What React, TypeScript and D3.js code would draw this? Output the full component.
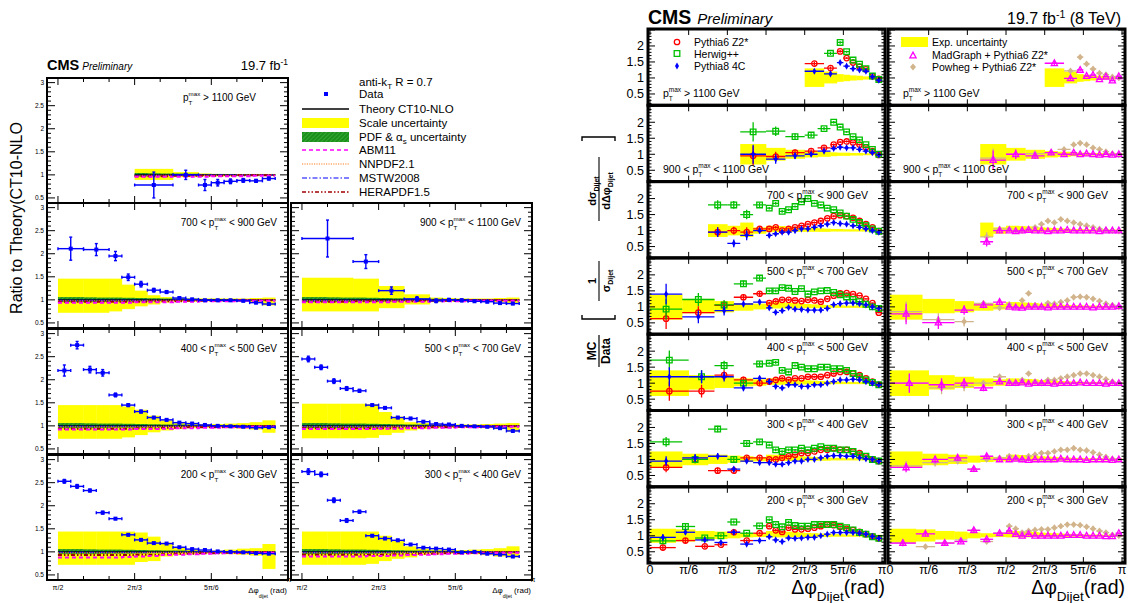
import React, { useEffect, useRef } from 'react';
import * as d3 from 'd3';

const FONT = "'Liberation Sans', Arial, Helvetica, sans-serif";
// every bin edge below is counted in units of pi/36
const STEP = Math.PI / 36;

const FINE_L = [18, 19, 20, 21, 22, 23, 24, 25, 26, 27, 28, 29, 30, 31, 32, 33, 34, 35];
const FINE_R = [18, 19, 20, 21, 22, 23, 24, 25, 26, 27, 28, 29, 30, 31, 32, 33, 34, 35, 36];

/* =====================
   Left figure: ratio to CT10-NLO
   ===================== */

const leftPre = ['', '700 < ', '900 < ', '400 < ', '500 < ', '200 < ', '300 < '];
const leftPost = [' > 1100 GeV', ' < 900 GeV', ' < 1100 GeV', ' < 500 GeV', ' < 700 GeV', ' < 300 GeV', ' < 400 GeV'];
// [column, row]
const leftCell = [[0, 0], [0, 1], [1, 1], [0, 2], [1, 2], [0, 3], [1, 3]];

const leftEdges = [
  [24, 27, 29, 30, 31, 32, 33, 34, 35],
  [18, 20, 22, 23, 24, 25, 26, 27, 28, 29, 30, 31, 32, 33, 34, 35],
  [18, 22, 24, 26, 28, 29, 30, 31, 32, 33, 34, 35],
  FINE_L, FINE_L, FINE_L, FINE_L,
];

const leftData = [
  [0.78, 1.0, 0.78, 0.83, 0.86, 0.88, 0.87, 0.92],
  [2.11, 2.09, 1.95, 1.49, 1.34, 1.21, 1.17, 1.04, 1.01, 0.99, 0.99, 0.99, 0.98, 0.94, 0.91],
  [2.33, 1.83, 1.2, 1.02, 0.98, 1.0, 0.99, 0.97, 0.96, 0.93, 0.92],
  [2.2, 2.75, 2.22, 2.15, 1.67, 1.45, 1.31, 1.18, 1.13, 1.07, 1.05, 1.02, 1.0, 0.99, 0.98, 0.96, 0.97],
  [2.45, 2.27, 1.97, 1.81, 1.76, 1.45, 1.39, 1.18, 1.16, 1.09, 1.04, 1.03, 1.0, 0.99, 0.98, 0.95, 0.89],
  [2.53, 2.42, 2.33, 1.85, 1.72, 1.37, 1.26, 1.19, 1.18, 1.1, 1.06, 1.04, 1.01, 1.0, 0.99, 0.97, 0.96],
  [2.74, 2.68, 2.12, 1.68, 1.87, 1.35, 1.29, 1.25, 1.16, 1.09, 1.07, 1.05, 0.99, 1.0, 0.96, 0.94, 0.9],
];

const leftErr = [
  [0.28, 0.1, 0.12, 0.07, 0.05, 0.04, 0.03, 0.03],
  [0.25, 0.13, 0.1, 0.07, 0.06, 0.04, 0.03, 0.02, 0.02, 0.02, 0.02, 0.02, 0.02, 0.02, 0.02],
  [0.4, 0.15, 0.08, 0.05, 0.04, 0.03, 0.03, 0.02, 0.02, 0.02, 0.02],
  [0.12, 0.08, 0.07, 0.07, 0.04, 0.03, 0.03, 0.02, 0.02, 0.02, 0.02, 0.02, 0.01, 0.01, 0.01, 0.01, 0.01],
  [0.06, 0.05, 0.05, 0.04, 0.03, 0.02, 0.02, 0.02, 0.02, 0.02, 0.01, 0.01, 0.01, 0.01, 0.01, 0.01, 0.02],
  [0.04, 0.04, 0.03, 0.03, 0.02, 0.02, 0.01, 0.01, 0.01, 0.01, 0.01, 0.01, 0.01, 0.01, 0.01, 0.01, 0.01],
  [0.06, 0.05, 0.05, 0.04, 0.03, 0.02, 0.02, 0.02, 0.01, 0.01, 0.01, 0.01, 0.01, 0.01, 0.01, 0.01, 0.02],
];

const leftScaleLo = [
  [0.89, 0.95, 0.97, 0.97, 0.97, 0.98, 0.98, 0.98],
  [0.72, 0.72, 0.75, 0.8, 0.86, 0.9, 0.94, 0.96, 0.96, 0.97, 0.97, 0.97, 0.96, 0.95, 0.88],
  [0.75, 0.75, 0.82, 0.9, 0.95, 0.96, 0.97, 0.97, 0.96, 0.95, 0.92],
  [0.72, 0.72, 0.72, 0.72, 0.72, 0.75, 0.8, 0.86, 0.9, 0.93, 0.95, 0.96, 0.96, 0.95, 0.94, 0.92, 0.85],
  [0.73, 0.73, 0.73, 0.73, 0.73, 0.74, 0.8, 0.85, 0.9, 0.93, 0.95, 0.96, 0.96, 0.96, 0.95, 0.93, 0.88],
  [0.72, 0.72, 0.72, 0.72, 0.72, 0.72, 0.78, 0.8, 0.9, 0.93, 0.95, 0.96, 0.96, 0.95, 0.94, 0.92, 0.63],
  [0.72, 0.72, 0.72, 0.72, 0.72, 0.74, 0.8, 0.85, 0.88, 0.93, 0.95, 0.96, 0.96, 0.95, 0.93, 0.9, 0.88],
];
const leftScaleHi = [
  [1.13, 1.06, 1.03, 1.02, 1.02, 1.02, 1.02, 1.02],
  [1.46, 1.46, 1.46, 1.33, 1.2, 1.1, 1.06, 1.04, 1.03, 1.03, 1.03, 1.03, 1.03, 1.04, 1.05],
  [1.48, 1.46, 1.3, 1.12, 1.05, 1.04, 1.03, 1.03, 1.03, 1.04, 1.05],
  [1.45, 1.45, 1.45, 1.45, 1.45, 1.42, 1.35, 1.22, 1.12, 1.07, 1.05, 1.04, 1.04, 1.05, 1.06, 1.08, 1.12],
  [1.48, 1.48, 1.48, 1.48, 1.48, 1.47, 1.3, 1.2, 1.08, 1.06, 1.04, 1.03, 1.03, 1.03, 1.04, 1.05, 1.06],
  [1.44, 1.44, 1.44, 1.44, 1.44, 1.44, 1.42, 1.33, 1.2, 1.1, 1.05, 1.03, 1.03, 1.05, 1.07, 1.08, 1.17],
  [1.44, 1.44, 1.44, 1.44, 1.44, 1.44, 1.35, 1.25, 1.12, 1.07, 1.05, 1.04, 1.04, 1.05, 1.06, 1.08, 1.12],
];

// PDF & alpha_s band on the fine pi/36 grid (pi/2 .. 35 pi/36)
const leftPdfLo = [0.95, 0.95, 0.95, 0.955, 0.96, 0.96, 0.965, 0.97, 0.975, 0.975, 0.98, 0.98, 0.985, 0.985, 0.99, 0.99, 0.99];
const leftPdfHi = [1.06, 1.06, 1.055, 1.05, 1.05, 1.045, 1.04, 1.035, 1.03, 1.03, 1.025, 1.02, 1.02, 1.015, 1.015, 1.01, 1.01];

const leftNnpdf = [0.98, 0.98, 0.98, 0.98, 0.98, 0.98, 0.98, 0.99, 0.99, 0.99, 0.99, 0.99, 0.99, 0.99, 1.0, 1.0, 1.0];
const leftMstw = [0.99, 0.99, 0.99, 0.99, 0.99, 0.99, 0.99, 0.99, 0.99, 1.0, 1.0, 1.0, 1.0, 1.0, 1.0, 1.0, 1.0];
const leftAbm = [
  [0.95, 0.95, 0.95, 0.95, 0.95, 0.95, 0.96, 0.96, 0.96, 0.96, 0.96, 0.96, 0.97, 0.97, 0.97, 0.98, 0.98],
  [0.94, 0.94, 0.94, 0.94, 0.94, 0.94, 0.95, 0.95, 0.95, 0.96, 0.96, 0.97, 0.97, 0.97, 0.98, 0.98, 0.98],
  [0.95, 0.95, 0.95, 0.95, 0.95, 0.95, 0.95, 0.96, 0.96, 0.96, 0.97, 0.97, 0.97, 0.98, 0.98, 0.98, 0.98],
  [0.92, 0.92, 0.92, 0.92, 0.92, 0.92, 0.93, 0.93, 0.94, 0.95, 0.95, 0.96, 0.96, 0.97, 0.97, 0.98, 0.98],
  [0.93, 0.93, 0.93, 0.93, 0.93, 0.93, 0.94, 0.94, 0.95, 0.95, 0.96, 0.96, 0.97, 0.97, 0.98, 0.98, 0.98],
  [0.88, 0.88, 0.88, 0.88, 0.88, 0.89, 0.9, 0.91, 0.93, 0.94, 0.95, 0.96, 0.97, 0.97, 0.98, 0.98, 0.98],
  [0.9, 0.9, 0.9, 0.9, 0.9, 0.91, 0.91, 0.92, 0.93, 0.94, 0.95, 0.96, 0.96, 0.97, 0.97, 0.98, 0.98],
];
const leftHera = [
  [0.97, 0.97, 0.97, 0.97, 0.97, 0.97, 0.97, 0.97, 0.97, 0.98, 0.98, 0.98, 0.98, 0.98, 0.99, 0.99, 0.99],
  [0.96, 0.96, 0.96, 0.96, 0.96, 0.96, 0.96, 0.97, 0.97, 0.97, 0.98, 0.98, 0.98, 0.98, 0.99, 0.99, 0.99],
  [0.96, 0.96, 0.96, 0.96, 0.97, 0.97, 0.97, 0.97, 0.97, 0.98, 0.98, 0.98, 0.98, 0.99, 0.99, 0.99, 0.99],
  [0.94, 0.94, 0.94, 0.94, 0.94, 0.94, 0.95, 0.95, 0.96, 0.96, 0.97, 0.97, 0.97, 0.98, 0.98, 0.99, 0.99],
  [0.95, 0.95, 0.95, 0.95, 0.95, 0.95, 0.95, 0.96, 0.96, 0.97, 0.97, 0.97, 0.98, 0.98, 0.98, 0.99, 0.99],
  [0.93, 0.93, 0.93, 0.93, 0.93, 0.93, 0.94, 0.94, 0.95, 0.96, 0.96, 0.97, 0.97, 0.98, 0.98, 0.99, 0.99],
  [0.94, 0.94, 0.94, 0.94, 0.94, 0.94, 0.94, 0.95, 0.95, 0.96, 0.96, 0.97, 0.97, 0.98, 0.98, 0.99, 0.99],
];

/* =====================
   Right figure: MC / Data
   ===================== */

const rightPre = ['', '900 < ', '700 < ', '500 < ', '400 < ', '300 < ', '200 < '];
const rightPost = [' > 1100 GeV', ' < 1100 GeV', ' < 900 GeV', ' < 700 GeV', ' < 500 GeV', ' < 400 GeV', ' < 300 GeV'];

const rightEdges = [
  [24, 27, 29, 30, 31, 32, 33, 34, 35, 36],
  [14, 18, 21, 24, 26, 28, 29, 30, 31, 32, 33, 34, 35, 36],
  [9, 12, 14, 16, ...FINE_R],
  [0, 5, 10, 13, 16, ...FINE_R],
  [0, 6, 10, 13, 16, ...FINE_R],
  [0, 5, 9, 12, 14, 16, ...FINE_R],
  [0, 4, 7, 10, 12, 14, 16, ...FINE_R],
];

const EXP_LO_FINE = [0.95, 0.95, 0.95, 0.95, 0.96, 0.96, 0.96, 0.96, 0.96, 0.96, 0.97, 0.97, 0.97, 0.97, 0.97, 0.97, 0.97, 0.97];
const EXP_HI_FINE = [1.15, 1.15, 1.14, 1.13, 1.12, 1.1, 1.09, 1.08, 1.07, 1.06, 1.05, 1.05, 1.04, 1.04, 1.04, 1.03, 1.03, 1.03];
const ERR_FINE = [0.04, 0.04, 0.04, 0.04, 0.03, 0.03, 0.03, 0.03, 0.03, 0.03, 0.03, 0.02, 0.02, 0.02, 0.02, 0.02, 0.02, 0.02];

const rightExpLo = [
  [0.72, 0.83, 0.88, 0.9, 0.92, 0.93, 0.95, 0.96, 0.97],
  [0.68, 0.8, 0.86, 0.9, 0.92, 0.94, 0.95, 0.95, 0.96, 0.96, 0.97, 0.97, 0.97],
  [0.8, 0.85, 0.8, 0.9, ...EXP_LO_FINE],
  [0.6, 0.8, 0.83, 0.88, 0.92, ...EXP_LO_FINE],
  [0.6, 0.8, 0.85, 0.9, 0.92, ...EXP_LO_FINE],
  [0.75, 0.82, 0.86, 0.9, 0.92, 0.94, ...EXP_LO_FINE],
  [0.78, 0.82, 0.88, 0.9, 0.92, 0.95, 0.96, ...EXP_LO_FINE],
];
const rightExpHi = [
  [1.3, 1.2, 1.12, 1.1, 1.08, 1.07, 1.05, 1.04, 1.03],
  [1.32, 1.2, 1.14, 1.1, 1.08, 1.06, 1.05, 1.05, 1.04, 1.04, 1.03, 1.03, 1.03],
  [1.2, 1.15, 1.25, 1.1, ...EXP_HI_FINE],
  [1.38, 1.25, 1.18, 1.12, 1.1, ...EXP_HI_FINE],
  [1.4, 1.25, 1.2, 1.15, 1.12, ...EXP_HI_FINE],
  [1.25, 1.18, 1.15, 1.12, 1.1, 1.08, ...EXP_HI_FINE],
  [1.22, 1.2, 1.15, 1.13, 1.1, 1.08, 1.06, ...EXP_HI_FINE],
];
const rightErr = [
  [0.06, 0.05, 0.04, 0.03, 0.03, 0.02, 0.02, 0.02, 0.02],
  [0.3, 0.15, 0.1, 0.06, 0.05, 0.04, 0.03, 0.03, 0.03, 0.03, 0.02, 0.02, 0.02],
  [0.15, 0.12, 0.15, 0.08, ...ERR_FINE],
  [0.32, 0.2, 0.15, 0.1, 0.08, ...ERR_FINE],
  [0.3, 0.2, 0.15, 0.1, 0.08, ...ERR_FINE],
  [0.15, 0.12, 0.1, 0.08, 0.06, 0.05, ...ERR_FINE],
  [0.1, 0.08, 0.06, 0.05, 0.05, 0.04, 0.04, ...ERR_FINE],
];

const pythia6 = [
  [1.45, 1.31, 1.83, 1.62, 1.48, 1.35, 1.27, 1.05, 0.97],
  [0.95, 0.93, 1.05, 1.1, 1.2, 1.3, 1.38, 1.4, 1.37, 1.3, 1.22, 1.1, 0.98],
  [0.95, 1.0, 0.95, 1.05, 1.05, 1.1, 1.0, 1.05, 1.1, 1.15, 1.2, 1.25, 1.3, 1.38, 1.45, 1.48, 1.45, 1.4, 1.3, 1.2, 1.1, 0.98],
  [0.63, 0.82, 1.05, 1.3, 1.41, 1.12, 1.17, 1.22, 1.22, 1.2, 1.18, 1.22, 1.2, 1.16, 1.25, 1.35, 1.42, 1.43, 1.4, 1.35, 1.25, 1.12, 0.82],
  [0.75, 0.75, 1.25, 1.1, 1.0, 1.05, 1.1, 1.15, 1.1, 1.15, 1.15, 1.2, 1.2, 1.2, 1.25, 1.3, 1.35, 1.35, 1.3, 1.25, 1.15, 1.05, 0.95],
  [0.75, 1.0, 0.65, 0.65, 1.05, 1.05, 1.0, 1.0, 1.05, 1.1, 1.15, 1.2, 1.2, 1.25, 1.3, 1.3, 1.35, 1.3, 1.3, 1.25, 1.2, 1.1, 1.0, 0.95],
  [0.63, 0.85, 0.67, 0.72, 1.11, 0.85, 1.08, 1.3, 1.17, 1.12, 1.25, 1.2, 1.2, 1.22, 1.25, 1.3, 1.35, 1.33, 1.28, 1.22, 1.18, 1.12, 1.05, 0.98, 0.92],
];
const herwig = [
  [null, 1.77, 2.11, 1.82, 1.56, 1.43, 1.29, 1.06, 0.95],
  [1.7, 1.72, 1.55, 1.6, 1.8, 2.0, 1.85, 1.7, 1.55, 1.45, 1.3, 1.15, 1.0],
  [1.8, 1.8, 1.5, 1.8, 1.7, 1.85, 1.6, 1.65, 1.75, 1.9, 2.0, 1.85, 1.8, 1.7, 1.65, 1.55, 1.45, 1.35, 1.25, 1.15, 1.05, 0.98],
  [0.93, 1.23, 1.06, 1.72, 1.9, 1.5, 1.5, 1.6, 1.58, 1.48, 1.57, 1.4, 1.47, 1.5, 1.51, 1.45, 1.38, 1.31, 1.23, 1.16, 1.08, 1.0, 0.95],
  [1.72, 1.2, 1.55, 1.0, 1.6, 1.62, 1.65, 1.4, 1.35, 1.55, 1.5, 1.45, 1.45, 1.5, 1.5, 1.45, 1.45, 1.4, 1.3, 1.2, 1.1, 1.02, 0.95],
  [1.55, 1.0, 1.95, 1.0, 1.5, 1.55, 1.45, 1.3, 1.25, 1.3, 1.3, 1.35, 1.3, 1.35, 1.4, 1.35, 1.35, 1.3, 1.3, 1.25, 1.15, 1.1, 1.0, 0.95],
  [0.84, 1.29, 0.93, 1.0, 1.43, 1.08, 1.31, 1.5, 1.35, 1.28, 1.42, 1.32, 1.3, 1.3, 1.35, 1.35, 1.35, 1.35, 1.3, 1.25, 1.18, 1.1, 1.05, 0.97, 0.92],
];
const pythia8 = [
  [1.21, 1.13, 1.48, 1.37, 1.29, 1.25, 1.21, 1.04, 0.93],
  [1.0, 0.85, 0.95, 1.0, 1.1, 1.18, 1.22, 1.2, 1.2, 1.15, 1.1, 1.05, 0.98],
  [0.95, 0.6, 0.85, 1.0, 0.85, 0.9, 0.95, 0.95, 1.0, 1.05, 1.05, 1.1, 1.15, 1.2, 1.25, 1.22, 1.2, 1.15, 1.1, 1.05, 1.0, 0.95],
  [1.4, 0.69, 0.88, 1.09, 1.15, 0.97, 0.83, 0.88, 0.98, 0.93, 0.92, 0.9, 0.9, 0.9, 0.95, 1.07, 1.1, 1.12, 1.12, 1.1, 1.06, 1.0, 0.95],
  [1.2, 1.2, 1.2, 0.85, 1.15, 1.05, 0.9, 0.85, 0.95, 0.95, 0.9, 0.9, 0.95, 0.95, 1.0, 1.05, 1.1, 1.1, 1.12, 1.1, 1.05, 1.0, 0.95],
  [0.95, 1.05, 1.1, 0.7, 0.95, 0.9, 0.9, 0.85, 0.85, 0.9, 0.95, 0.95, 1.0, 1.0, 1.05, 1.1, 1.12, 1.12, 1.1, 1.1, 1.05, 1.02, 1.0, 0.95],
  [0.95, 1.11, 0.87, 0.79, 1.11, 0.74, 0.85, 0.97, 0.87, 0.82, 0.93, 0.92, 0.93, 0.95, 0.95, 1.0, 1.05, 1.1, 1.1, 1.1, 1.1, 1.08, 1.05, 0.98, 0.92],
];
const madgraph = [
  [1.46, 0.99, 1.25, 1.06, 1.09, 0.96, 1.04, 0.92, 1.05],
  [0.82, 1.0, 0.95, 1.05, 1.0, 1.05, 1.0, 1.02, 1.0, 0.98, 1.0, 0.98, 1.0],
  [null, null, 0.65, 1.0, 1.0, 0.98, 1.0, 1.02, 1.0, 1.0, 0.98, 1.0, 1.0, 1.02, 1.0, 1.0, 1.0, 1.0, 0.98, 1.0, 1.0, 1.0],
  [0.78, 0.51, 0.9, 1.06, 1.15, 1.0, 0.98, 0.97, 1.0, 1.0, 1.0, 0.98, 1.0, 1.0, 1.0, 1.0, 1.0, 1.0, 0.98, 1.0, 1.0, 1.0, 1.02],
  [1.0, 0.95, 1.0, 0.85, 1.05, 1.0, 1.0, 1.02, 0.98, 1.0, 1.0, 1.0, 0.98, 1.0, 1.0, 1.0, 1.02, 1.0, 1.0, 1.0, 0.98, 1.0, 1.0],
  [0.75, 1.0, 1.05, 0.7, 1.1, 1.0, 1.0, 1.02, 1.0, 0.98, 1.0, 1.0, 1.0, 1.0, 1.02, 1.0, 1.0, 1.0, 0.98, 1.0, 1.0, 1.0, 0.98, 1.0],
  [0.77, 1.06, 0.77, 0.82, 1.17, 0.89, 1.08, 1.15, 1.05, 1.0, 1.05, 1.0, 1.0, 1.0, 1.0, 1.0, 1.02, 1.02, 1.02, 1.0, 1.0, 1.0, 0.98, 0.98, 1.08],
];
const powheg = [
  [null, 1.22, 1.65, 1.44, 1.28, 1.15, 1.1, 1.03, 1.0],
  [0.88, 1.0, 1.02, 1.05, 1.15, 1.3, 1.35, 1.3, 1.2, 1.15, 1.08, 1.02, 0.98],
  [null, null, 0.8, 1.05, 1.05, 1.0, 1.0, 1.05, 1.1, 1.2, 1.3, 1.25, 1.35, 1.3, 1.25, 1.2, 1.15, 1.1, 1.05, 1.02, 1.0, 0.98],
  [0.85, 0.6, 0.54, 1.11, 0.97, 1.08, 1.0, 1.2, 1.42, 1.05, 1.0, 1.12, 1.1, 1.15, 1.2, 1.3, 1.32, 1.3, 1.25, 1.18, 1.1, 1.05, 1.0],
  [1.0, 0.85, 0.9, 1.0, 1.2, 1.05, 1.0, 1.1, 1.3, 1.05, 1.0, 1.1, 1.1, 1.15, 1.2, 1.25, 1.3, 1.3, 1.25, 1.2, 1.12, 1.05, 1.0],
  [0.8, 0.9, 0.95, 0.7, 1.0, 1.05, 1.1, 1.05, 1.0, 1.1, 1.15, 1.2, 1.2, 1.25, 1.3, 1.3, 1.35, 1.3, 1.28, 1.22, 1.15, 1.08, 1.02, 1.0],
  [0.78, 0.66, 0.78, 0.87, 1.17, 0.82, 1.08, 1.3, 1.22, 1.1, 1.15, 1.18, 1.2, 1.2, 1.25, 1.3, 1.35, 1.35, 1.33, 1.28, 1.22, 1.15, 1.1, 1.03, 1.0],
];

const rightXLabels = ['0', 'π/6', 'π/3', 'π/2', '2π/3', '5π/6', 'π'];

type Sel = d3.Selection<any, any, any, any>;

function ptLabel(g: Sel, x: number, y: number, pre: string, post: string, size: number, anchor: string) {
  const t = g.append('text').attr('x', x).attr('y', y).attr('font-size', size).attr('text-anchor', anchor);
  t.append('tspan').text(pre + 'p');
  t.append('tspan').attr('font-size', size * 0.62).attr('dy', size * 0.38).text('T');
  t.append('tspan').attr('font-size', size * 0.62).attr('dx', -size * 0.62 * 0.61).attr('dy', -size * 0.85).text('max');
  t.append('tspan').attr('dy', size * 0.47).text(post);
}

function markerPath(kind: string, cx: number, cy: number) {
  if (kind === 'diamond') return `M${cx},${cy - 3.6}L${cx + 2},${cy}L${cx},${cy + 3.6}L${cx - 2},${cy}Z`;
  if (kind === 'wdiamond') return `M${cx},${cy - 3.4}L${cx + 3},${cy}L${cx},${cy + 3.4}L${cx - 3},${cy}Z`;
  if (kind === 'triangle') return `M${cx},${cy - 3.4}L${cx + 3.1},${cy + 2.3}L${cx - 3.1},${cy + 2.3}Z`;
  if (kind === 'square') return `M${cx - 2.8},${cy - 2.8}h5.6v5.6h-5.6Z`;
  return `M${cx - 2.7},${cy}a2.7,2.7 0 1,0 5.4,0a2.7,2.7 0 1,0 -5.4,0`;
}
const markerFilled = (kind: string) => kind === 'diamond' || kind === 'wdiamond';

const App: React.FC = () => {
  const svgRef = useRef<SVGSVGElement>(null);

  useEffect(() => {
    if (!svgRef.current) return;
    const svg = d3.select(svgRef.current);
    svg.selectAll('*').remove();
    svg.attr('font-family', FONT);

    const defs = svg.append('defs');
    const pat = defs.append('pattern').attr('id', 'pdfHatch').attr('patternUnits', 'userSpaceOnUse')
      .attr('width', 3).attr('height', 3).attr('patternTransform', 'rotate(45)');
    pat.append('rect').attr('width', 3).attr('height', 3).attr('fill', '#1a8f1a');
    pat.append('line').attr('x1', 0).attr('y1', 0).attr('x2', 0).attr('y2', 3)
      .attr('stroke', '#45b845').attr('stroke-width', 1.2);

    /* ---------- left figure ---------- */
    const LX = [47, 291], LW = 241, LY = [78, 203, 329, 455], LH = 125;

    leftCell.forEach(([c, r], i) => {
      const x0 = LX[c], y0 = LY[r];
      const x = d3.scaleLinear().domain([1.496, Math.PI]).range([x0, x0 + LW]);
      const y = d3.scaleLinear().domain([0.39, 3.1]).range([y0 + LH, y0]);
      const g = svg.append('g');
      const edges = leftEdges[i];
      const bins = leftData[i].map((v, j) => ({
        lo: edges[j] * STEP, hi: edges[j + 1] * STEP, v, e: leftErr[i][j],
        sLo: leftScaleLo[i][j], sHi: leftScaleHi[i][j],
      }));

      g.selectAll(null).data(bins).join('rect')
        .attr('x', d => x(d.lo)).attr('width', d => x(d.hi) - x(d.lo) + 0.3)
        .attr('y', d => y(d.sHi)).attr('height', d => y(d.sLo) - y(d.sHi))
        .attr('fill', '#ffff00');

      const first = edges[0], last = edges[edges.length - 1];
      const fine = FINE_L.slice(0, -1).filter(k => k >= first && k < last);
      g.selectAll(null).data(fine).join('rect')
        .attr('x', k => x(k * STEP)).attr('width', k => x((k + 1) * STEP) - x(k * STEP) + 0.3)
        .attr('y', k => y(leftPdfHi[k - 18])).attr('height', k => y(leftPdfLo[k - 18]) - y(leftPdfHi[k - 18]))
        .attr('fill', 'url(#pdfHatch)');

      g.append('line').attr('x1', x(first * STEP)).attr('x2', x(last * STEP))
        .attr('y1', y(1)).attr('y2', y(1)).attr('stroke', '#000').attr('stroke-width', 1.3);

      const stepPath = (vals: number[]) => d3.line()(fine.flatMap(k => [
        [x(k * STEP), y(vals[k - 18])] as [number, number],
        [x((k + 1) * STEP), y(vals[k - 18])] as [number, number],
      ]));
      const variants: [number[], string, string, number][] = [
        [leftMstw, '#0000ff', '5,2,1.5,2', 1.2],
        [leftNnpdf, '#ff7f27', '1.2,1.2', 1.2],
        [leftHera[i], '#a00000', '4,2,1.5,2,1.5,2', 2],
        [leftAbm[i], '#ff00ff', '4,3', 2],
      ];
      variants.forEach(([vals, col, dash, w]) => {
        g.append('path').attr('d', stepPath(vals)).attr('fill', 'none')
          .attr('stroke', col).attr('stroke-width', w).attr('stroke-dasharray', dash);
      });

      // data
      const dg = g.append('g').attr('stroke', '#0000ff').attr('stroke-width', 1.4);
      bins.forEach(d => {
        const cx = x((d.lo + d.hi) / 2), cy = y(d.v);
        dg.append('line').attr('x1', x(d.lo)).attr('x2', x(d.hi)).attr('y1', cy).attr('y2', cy);
        dg.append('line').attr('x1', cx).attr('x2', cx).attr('y1', y(d.v - d.e)).attr('y2', y(d.v + d.e));
        [x(d.lo), x(d.hi)].forEach(ex => dg.append('line').attr('x1', ex).attr('x2', ex).attr('y1', cy - 1.5).attr('y2', cy + 1.5));
        [y(d.v - d.e), y(d.v + d.e)].forEach(ey => dg.append('line').attr('x1', cx - 1.5).attr('x2', cx + 1.5).attr('y1', ey).attr('y2', ey));
        dg.append('rect').attr('x', cx - 2).attr('y', cy - 2).attr('width', 4).attr('height', 4).attr('fill', '#0000ff').attr('stroke', 'none');
      });

      // ticks
      const tg = g.append('g').attr('stroke', '#000').attr('stroke-width', 1);
      d3.range(4, 31).forEach(k => {
        const v = k / 10;
        const l = k % 5 === 0 ? 8 : 4;
        tg.append('line').attr('x1', x0).attr('x2', x0 + l).attr('y1', y(v)).attr('y2', y(v));
        tg.append('line').attr('x1', x0 + LW - l).attr('x2', x0 + LW).attr('y1', y(v)).attr('y2', y(v));
      });
      d3.range(9, 19).forEach(k => {
        const v = k * Math.PI / 18;
        const l = k % 3 === 0 ? 7 : 4;
        tg.append('line').attr('x1', x(v)).attr('x2', x(v)).attr('y1', y0 + LH).attr('y2', y0 + LH - l);
        tg.append('line').attr('x1', x(v)).attr('x2', x(v)).attr('y1', y0).attr('y2', y0 + l);
      });

      g.append('rect').attr('x', x0).attr('y', y0).attr('width', LW).attr('height', LH)
        .attr('fill', 'none').attr('stroke', '#000').attr('stroke-width', 2);

      if (c === 0) {
        [0.5, 1, 1.5, 2, 2.5, 3].forEach(v => {
          g.append('text').attr('x', x0 - 3).attr('y', y(v)).attr('dy', '0.35em')
            .attr('text-anchor', 'end').attr('font-size', 6.5).text(String(v));
        });
      }
      if (r === 3) {
        [['π/2', Math.PI / 2], ['2π/3', 2 * Math.PI / 3], ['5π/6', 5 * Math.PI / 6]].forEach(([t, v]) => {
          g.append('text').attr('x', x(v as number)).attr('y', y0 + LH + 10).attr('text-anchor', 'middle')
            .attr('font-size', 7).text(t as string);
        });
        g.append('text').attr('x', x(Math.PI) + 1).attr('y', y0 + LH + 2).attr('text-anchor', 'middle').attr('font-size', 7).text('π');
        const xt = g.append('text').attr('x', x0 + LW - 1).attr('y', y0 + LH + 13).attr('text-anchor', 'end').attr('font-size', 8);
        xt.append('tspan').text('Δφ');
        xt.append('tspan').attr('font-size', 5).attr('dy', 5).text('dijet');
        xt.append('tspan').attr('dy', -5).text(' (rad)');
      }

      if (r === 0) ptLabel(g, x0 + 136, y0 + 23, leftPre[i], leftPost[i], 10, 'start');
      else ptLabel(g, x0 + LW - 11, y0 + 23, leftPre[i], leftPost[i], 10, 'end');
    });

    // left header
    const lh = svg.append('text').attr('x', 47).attr('y', 70);
    lh.append('tspan').attr('font-weight', 'bold').attr('font-size', 14.5).text('CMS');
    lh.append('tspan').attr('font-style', 'italic').attr('font-size', 10).attr('dx', 3).text('Preliminary');
    const ll = svg.append('text').attr('x', 288).attr('y', 70).attr('text-anchor', 'end').attr('font-size', 13);
    ll.append('tspan').text('19.7 fb');
    ll.append('tspan').attr('font-size', 8.5).attr('dy', -5).text('-1');

    svg.append('text').attr('transform', 'translate(22,218) rotate(-90)').attr('text-anchor', 'middle')
      .attr('font-size', 16).text('Ratio to Theory(CT10-NLO');

    // left legend
    const lg = svg.append('g').attr('font-size', 11.5);
    const legY = [82, 94, 109, 123, 137, 150, 164, 178, 192];
    const lt0 = lg.append('text').attr('x', 359).attr('y', legY[0] + 4);
    lt0.append('tspan').text('anti-k');
    lt0.append('tspan').attr('font-size', 8).attr('dy', 3).text('T');
    lt0.append('tspan').attr('dy', -3).text(' R = 0.7');
    lg.append('rect').attr('x', 324).attr('y', legY[1] - 2).attr('width', 4).attr('height', 4).attr('fill', '#0000ff');
    lg.append('text').attr('x', 359).attr('y', legY[1] + 4).text('Data');
    lg.append('line').attr('x1', 302).attr('x2', 349).attr('y1', legY[2]).attr('y2', legY[2]).attr('stroke', '#000').attr('stroke-width', 1.3);
    lg.append('text').attr('x', 359).attr('y', legY[2] + 4).text('Theory CT10-NLO');
    lg.append('rect').attr('x', 302).attr('y', legY[3] - 5).attr('width', 47).attr('height', 10).attr('fill', '#ffff00');
    lg.append('text').attr('x', 359).attr('y', legY[3] + 4).text('Scale uncertainty');
    lg.append('rect').attr('x', 302).attr('y', legY[4] - 5).attr('width', 47).attr('height', 10).attr('fill', 'url(#pdfHatch)');
    const lt4 = lg.append('text').attr('x', 359).attr('y', legY[4] + 4);
    lt4.append('tspan').text('PDF & α');
    lt4.append('tspan').attr('font-size', 8).attr('dy', 3).text('s');
    lt4.append('tspan').attr('dy', -3).text(' uncertainty');
    const legLines: [string, string, string, number][] = [
      ['ABM11', '#ff00ff', '4,3', 1.5],
      ['NNPDF2.1', '#ff7f27', '1.2,1.2', 1.2],
      ['MSTW2008', '#0000ff', '5,2,1.5,2', 1.2],
      ['HERAPDF1.5', '#a00000', '4,2,1.5,2,1.5,2', 1.5],
    ];
    legLines.forEach(([name, col, dash, w], j) => {
      const yy = legY[5 + j];
      lg.append('line').attr('x1', 302).attr('x2', 349).attr('y1', yy).attr('y2', yy)
        .attr('stroke', col).attr('stroke-width', w).attr('stroke-dasharray', dash);
      lg.append('text').attr('x', 359).attr('y', yy + 4).text(name);
    });

    /* ---------- right figure ---------- */
    const RX = [648, 888], RW = 237, RT = 29, RH = 76.3;
    const seriesL: [(number | null)[][], string, string][] = [
      [pythia6, 'circle', '#ff0000'],
      [herwig, 'square', '#00c000'],
      [pythia8, 'diamond', '#0000ff'],
    ];
    const seriesR: [(number | null)[][], string, string][] = [
      [powheg, 'wdiamond', '#d2b48c'],
      [madgraph, 'triangle', '#ff00ff'],
    ];

    for (let r = 0; r < 7; r++) {
      for (let c = 0; c < 2; c++) {
        const x0 = RX[c], y0 = RT + r * RH;
        const x = d3.scaleLinear().domain([-0.027, Math.PI + 0.04]).range([x0, x0 + RW]);
        const y = d3.scaleLinear().domain([0.146, 2.53]).range([y0 + RH, y0]);
        const id = `rclip${r}${c}`;
        defs.append('clipPath').attr('id', id).append('rect')
          .attr('x', x0).attr('y', y0).attr('width', RW).attr('height', RH);
        const g = svg.append('g');
        const pg = g.append('g').attr('clip-path', `url(#${id})`);
        const series = c === 0 ? seriesL : seriesR;
        const edges = rightEdges[r];
        const nb = edges.length - 1;
        // the band is only shown where this column has generator points
        const bins = d3.range(nb)
          .map(j => ({ lo: edges[j] * STEP, hi: edges[j + 1] * STEP, j }))
          .filter(d => series.some(([vals]) => vals[r][d.j] !== null));

        pg.selectAll(null).data(bins).join('rect')
          .attr('x', d => x(d.lo)).attr('width', d => x(d.hi) - x(d.lo) + 0.3)
          .attr('y', d => y(rightExpHi[r][d.j])).attr('height', d => y(rightExpLo[r][d.j]) - y(rightExpHi[r][d.j]))
          .attr('fill', '#ffff00');

        series.forEach(([vals, kind, col]) => {
          const sg = pg.append('g');
          bins.forEach(d => {
            const v = vals[r][d.j];
            if (v === null || v === undefined) return;
            const e = rightErr[r][d.j];
            const cx = x((d.lo + d.hi) / 2), cy = y(v);
            sg.append('line').attr('x1', x(d.lo)).attr('x2', x(d.hi)).attr('y1', cy).attr('y2', cy)
              .attr('stroke', col).attr('stroke-width', 1.3);
            sg.append('line').attr('x1', cx).attr('x2', cx).attr('y1', y(v - e)).attr('y2', y(v + e))
              .attr('stroke', col).attr('stroke-width', 1.3);
            sg.append('path').attr('d', markerPath(kind, cx, cy))
              .attr('fill', markerFilled(kind) ? col : 'none')
              .attr('stroke', markerFilled(kind) ? 'none' : col).attr('stroke-width', 1.3);
          });
        });

        // ticks
        const tg = g.append('g').attr('stroke', '#000').attr('stroke-width', 1);
        d3.range(2, 26).forEach(k => {
          const v = k / 10;
          const l = k % 5 === 0 ? 7 : 3.5;
          tg.append('line').attr('x1', x0).attr('x2', x0 + l).attr('y1', y(v)).attr('y2', y(v));
          tg.append('line').attr('x1', x0 + RW - l).attr('x2', x0 + RW).attr('y1', y(v)).attr('y2', y(v));
        });
        d3.range(0, 7).forEach(k => {
          const v = k * Math.PI / 6;
          tg.append('line').attr('x1', x(v)).attr('x2', x(v)).attr('y1', y0 + RH).attr('y2', y0 + RH - 6);
          tg.append('line').attr('x1', x(v)).attr('x2', x(v)).attr('y1', y0).attr('y2', y0 + 6);
        });

        g.append('rect').attr('x', x0).attr('y', y0).attr('width', RW).attr('height', RH)
          .attr('fill', 'none').attr('stroke', '#000').attr('stroke-width', 3);

        if (c === 0) {
          [0.5, 1, 1.5, 2].forEach(v => {
            g.append('text').attr('x', x0 - 4).attr('y', y(v)).attr('dy', '0.36em')
              .attr('text-anchor', 'end').attr('font-size', 12.5).text(String(v));
          });
        }
        if (r === 6) {
          rightXLabels.forEach((t, k) => {
            g.append('text').attr('x', x(k * Math.PI / 6)).attr('y', y0 + RH + 10.5).attr('text-anchor', 'middle')
              .attr('font-size', 12.5).text(t);
          });
          const xt = g.append('text').attr('x', x0 + RW).attr('y', y0 + RH + 30.5).attr('text-anchor', 'end').attr('font-size', 19.5);
          xt.append('tspan').text('Δφ');
          xt.append('tspan').attr('font-size', 13.5).attr('dy', 7).text('Dijet');
          xt.append('tspan').attr('dy', -7).text('(rad)');
        }

        if (r < 2) ptLabel(g, x0 + 15, y0 + 68, rightPre[r], rightPost[r], 10.5, 'start');
        else ptLabel(g, x0 + RW - 17, y0 + 17, rightPre[r], rightPost[r], 10.5, 'end');
      }
    }

    // right header
    const rh = svg.append('text').attr('x', 648).attr('y', 24);
    rh.append('tspan').attr('font-weight', 'bold').attr('font-size', 19.5).text('CMS');
    rh.append('tspan').attr('font-style', 'italic').attr('font-size', 15).attr('dx', 6).text('Preliminary');
    const rl = svg.append('text').attr('x', 1121).attr('y', 24).attr('text-anchor', 'end').attr('font-size', 16);
    rl.append('tspan').text('19.7 fb');
    rl.append('tspan').attr('font-size', 10.5).attr('dy', -6).text('-1');
    rl.append('tspan').attr('dy', 6).text(' (8 TeV)');

    // right legends
    const rg = svg.append('g').attr('font-size', 10.5);
    const legL: [string, string, string, number][] = [
      ['Pythia6 Z2*', 'circle', '#ff0000', 42],
      ['Herwig++', 'square', '#00c000', 53.5],
      ['Pythia8 4C', 'diamond', '#0000ff', 66],
    ];
    legL.forEach(([t, kind, col, yy]) => {
      rg.append('path').attr('d', markerPath(kind, 677, yy)).attr('fill', markerFilled(kind) ? col : 'none')
        .attr('stroke', markerFilled(kind) ? 'none' : col).attr('stroke-width', 1.3);
      rg.append('text').attr('x', 694).attr('y', yy + 4).text(t);
    });
    rg.append('rect').attr('x', 901).attr('y', 37).attr('width', 27).attr('height', 10).attr('fill', '#ffff00');
    rg.append('text').attr('x', 932).attr('y', 46).text('Exp. uncertainty');
    rg.append('path').attr('d', markerPath('triangle', 913, 55.5)).attr('fill', 'none').attr('stroke', '#ff00ff').attr('stroke-width', 1.3);
    rg.append('text').attr('x', 932).attr('y', 59).text('MadGraph + Pythia6 Z2*');
    rg.append('path').attr('d', markerPath('wdiamond', 913, 67)).attr('fill', '#d2b48c');
    rg.append('text').attr('x', 932).attr('y', 71).text('Powheg + Pythia6 Z2*');

    // right y title
    const yt = svg.append('g').attr('transform', 'translate(600,255) rotate(-90)').attr('font-weight', 'bold');
    yt.append('text').attr('x', -96).attr('y', -4).attr('text-anchor', 'middle').attr('font-size', 12).text('MC');
    yt.append('line').attr('x1', -112).attr('x2', -80).attr('y1', -1).attr('y2', -1).attr('stroke', '#000').attr('stroke-width', 1.2);
    yt.append('text').attr('x', -96).attr('y', 10).attr('text-anchor', 'middle').attr('font-size', 12).text('Data');
    const bracket = (bx: number, dir: number) => `M${bx + dir * 4},-18H${bx}V15H${bx + dir * 4}`;
    yt.append('path').attr('d', bracket(-64, 1)).attr('fill', 'none').attr('stroke', '#000').attr('stroke-width', 1.4);
    yt.append('path').attr('d', bracket(118, -1)).attr('fill', 'none').attr('stroke', '#000').attr('stroke-width', 1.4);
    yt.append('text').attr('x', -26).attr('y', -4).attr('text-anchor', 'middle').attr('font-size', 11).text('1');
    yt.append('line').attr('x1', -46).attr('x2', -6).attr('y1', -1).attr('y2', -1).attr('stroke', '#000').attr('stroke-width', 1.1);
    const s1 = yt.append('text').attr('x', -26).attr('y', 10).attr('text-anchor', 'middle').attr('font-size', 11);
    s1.append('tspan').text('σ');
    s1.append('tspan').attr('font-size', 7).attr('dy', 3).text('Dijet');
    const n2 = yt.append('text').attr('x', 64).attr('y', -4).attr('text-anchor', 'middle').attr('font-size', 11);
    n2.append('tspan').text('dσ');
    n2.append('tspan').attr('font-size', 7).attr('dy', 3).text('Dijet');
    yt.append('line').attr('x1', 34).attr('x2', 98).attr('y1', -1).attr('y2', -1).attr('stroke', '#000').attr('stroke-width', 1.1);
    const d2 = yt.append('text').attr('x', 64).attr('y', 10).attr('text-anchor', 'middle').attr('font-size', 11);
    d2.append('tspan').text('dΔφ');
    d2.append('tspan').attr('font-size', 7).attr('dy', 3).text('Dijet');
  }, []);

  return (
    <svg
      ref={svgRef}
      width={1132}
      height={603}
      style={{ position: 'absolute', left: 0, top: 0, background: '#ffffff' }}
    />
  );
};

export default App;
